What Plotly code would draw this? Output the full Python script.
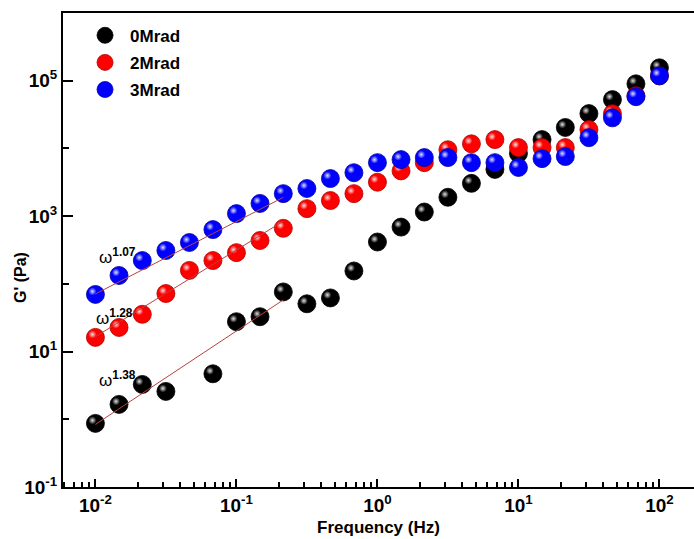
import math
import plotly.graph_objects as go

# ---------------- data ----------------
freq = [0.01, 0.0147, 0.0215, 0.0316, 0.0464, 0.0681, 0.1, 0.147, 0.215, 0.316,
        0.464, 0.681, 1.0, 1.47, 2.15, 3.16, 4.64, 6.81, 10.0, 14.7, 21.5, 31.6,
        46.4, 68.1, 100.0]

g_0mrad = [0.87, 1.66, 3.27, 2.58, None, 4.7, 27.6, 32.7, 76, 50.8, 62, 155, 415,
           689, 1150, 1900, 3050, 4900, 8430, 13500, 20400, 32700, 52600, 90000, 155000]
g_2mrad = [16.2, 22.7, 35.5, 72, 158, 221, 289, 437, 661, 1290, 1700, 2150, 3170,
           4660, 6170, 9560, 11700, 13500, 10300, 10300, 10300, 19000, 32600, 60000, 118000]
g_3mrad = [69.8, 133, 221, 311, 408, 633, 1090, 1540, 2150, 2560, 3590, 4380, 6170,
           6840, 7330, 7330, 6170, 6170, 5230, 7070, 7590, 14400, 28300, 58000, 118000]

series_names = ["0Mrad", "2Mrad", "3Mrad"]
series_values = [g_0mrad, g_2mrad, g_3mrad]

# power-law fits in the terminal region
fit_range = [0.01, 0.215]
fit_exponents = [1.38, 1.28, 1.07]
fit_prefactor = [0.84, 16.6, 71.0]   # G' at the first fit frequency
fit_labels = ["ω<sup><b>1.38</b></sup>", "ω<sup><b>1.28</b></sup>", "ω<sup><b>1.07</b></sup>"]
fit_label_pos = [(0.0102, 3.9), (0.0097, 32.0), (0.0102, 260.0)]

x_tick_vals = [0.01, 0.1, 1, 10, 100]
x_tick_text = ["10<sup>-2</sup>", "10<sup>-1</sup>", "10<sup>0</sup>",
               "10<sup>1</sup>", "10<sup>2</sup>"]
y_tick_vals = [0.1, 10, 1000, 100000]
y_tick_text = ["10<sup>-1</sup>", "10<sup>1</sup>", "10<sup>3</sup>", "10<sup>5</sup>"]

# ---------------- styling ----------------
FONT = "Liberation Sans, Arial, sans-serif"
base_colors = ["#000000", "#ff0000", "#0000ff"]
edge_colors = ["#000000", "#b00000", "#0000a8"]
shine_colors = ["#e0e0e0", "#ffe0e0", "#e0e0ff"]
fit_color = "#b8413f"

X0, X1 = -2.23, 2.245
Y0, Y1 = -1.0, 6.0
W, H = 694, 539
ML, MR, MT, MB = 63, 0, 13, 52
px_per_dec_x = (W - ML - MR) / (X1 - X0)
px_per_dec_y = (H - MT - MB) / (Y1 - Y0)
shift_x = 3.0 / px_per_dec_x
shift_y = 3.0 / px_per_dec_y

fig = go.Figure()

minor_x = [k * 10.0 ** e for e in range(-3, 3) for k in range(2, 10)]

for i, (name, vals) in enumerate(zip(series_names, series_values)):
    main_ax = 2 * i + 1
    hl_ax = 2 * i + 2
    xa = "x" if main_ax == 1 else f"x{main_ax}"
    ya = "y" if main_ax == 1 else f"y{main_ax}"
    fig.add_trace(go.Scatter(
        x=freq, y=vals, mode="markers", name=name, legendgroup=name,
        xaxis=xa, yaxis=ya,
        marker=dict(size=18, color=base_colors[i],
                    line=dict(color=edge_colors[i], width=0.8)),
    ))
    fig.add_trace(go.Scatter(
        x=freq, y=vals, mode="markers", showlegend=False, hoverinfo="skip",
        xaxis=f"x{hl_ax}", yaxis=f"y{hl_ax}",
        marker=dict(size=8, color=base_colors[i], line=dict(width=0),
                    gradient=dict(type="radial", color=shine_colors[i])),
    ))

for n, A in zip(fit_exponents, fit_prefactor):
    fx = fit_range
    fy = [A * (f / fit_range[0]) ** n for f in fx]
    fig.add_trace(go.Scatter(x=fx, y=fy, mode="lines", showlegend=False,
                             hoverinfo="skip", xaxis="x7", yaxis="y7",
                             line=dict(color=fit_color, width=1)))

# axes
axis_common = dict(type="log", showgrid=False, zeroline=False, showline=True,
                   linecolor="black", linewidth=2, ticks="inside",
                   tickcolor="black", tickwidth=2, automargin=False,
                   tickfont=dict(family=FONT, size=19, color="black", weight="bold"))

fig.update_layout(
    xaxis=dict(axis_common, range=[X0, X1], tickvals=x_tick_vals, ticktext=x_tick_text,
               ticklen=8, mirror=True,
               minor=dict(tickvals=minor_x, ticks="inside", ticklen=5, tickwidth=1.5,
                          tickcolor="black"),
               title=dict(text="Frequency (Hz)", standoff=6,
                          font=dict(family=FONT, size=17, color="black", weight="bold"))),
    yaxis=dict(axis_common, range=[Y0, Y1], tickvals=y_tick_vals, ticktext=y_tick_text,
               ticklen=10,
               minor=dict(tickvals=[1, 100, 10000], ticks="inside", ticklen=6,
                          tickwidth=1.5, tickcolor="black")),
)

for n in range(2, 8):
    sx = shift_x if n % 2 == 0 and n < 7 else 0.0
    sy = -shift_y if n % 2 == 0 and n < 7 else 0.0
    fig.update_layout(**{
        f"xaxis{n}": dict(type="log", range=[X0 + sx, X1 + sx], overlaying="x",
                          visible=False, anchor=f"y{n}"),
        f"yaxis{n}": dict(type="log", range=[Y0 + sy, Y1 + sy], overlaying="y",
                          visible=False, anchor=f"x{n}"),
    })

annotations = []
for lab, pos in zip(fit_labels, fit_label_pos):
    annotations.append(dict(x=math.log10(pos[0]), y=math.log10(pos[1]), xref="x", yref="y",
                            text=lab, showarrow=False, xanchor="left", yanchor="middle",
                            font=dict(family=FONT, size=17, color="black")))
annotations.append(dict(x=(20 - ML) / (W - ML - MR), y=(H - MB - 277) / (H - MT - MB),
                        xref="paper", yref="paper", text="G' (Pa)",
                        xanchor="center", yanchor="middle",
                        textangle=-90, showarrow=False,
                        font=dict(family=FONT, size=16, color="black", weight="bold")))

fig.update_layout(
    width=W, height=H,
    margin=dict(l=ML, r=MR, t=MT, b=MB, autoexpand=False),
    plot_bgcolor="white", paper_bgcolor="white",
    annotations=annotations,
    legend=dict(x=0.027, y=0.99, xanchor="left", yanchor="top", itemwidth=40,
                bgcolor="rgba(0,0,0,0)", traceorder="grouped", tracegroupgap=2,
                font=dict(family=FONT, size=17, color="black", weight="bold")),
    font=dict(family=FONT),
)

fig.write_html("out.html", config={"displayModeBar": False},
               post_script="document.body.style.margin='0';document.body.style.overflow='hidden';")
